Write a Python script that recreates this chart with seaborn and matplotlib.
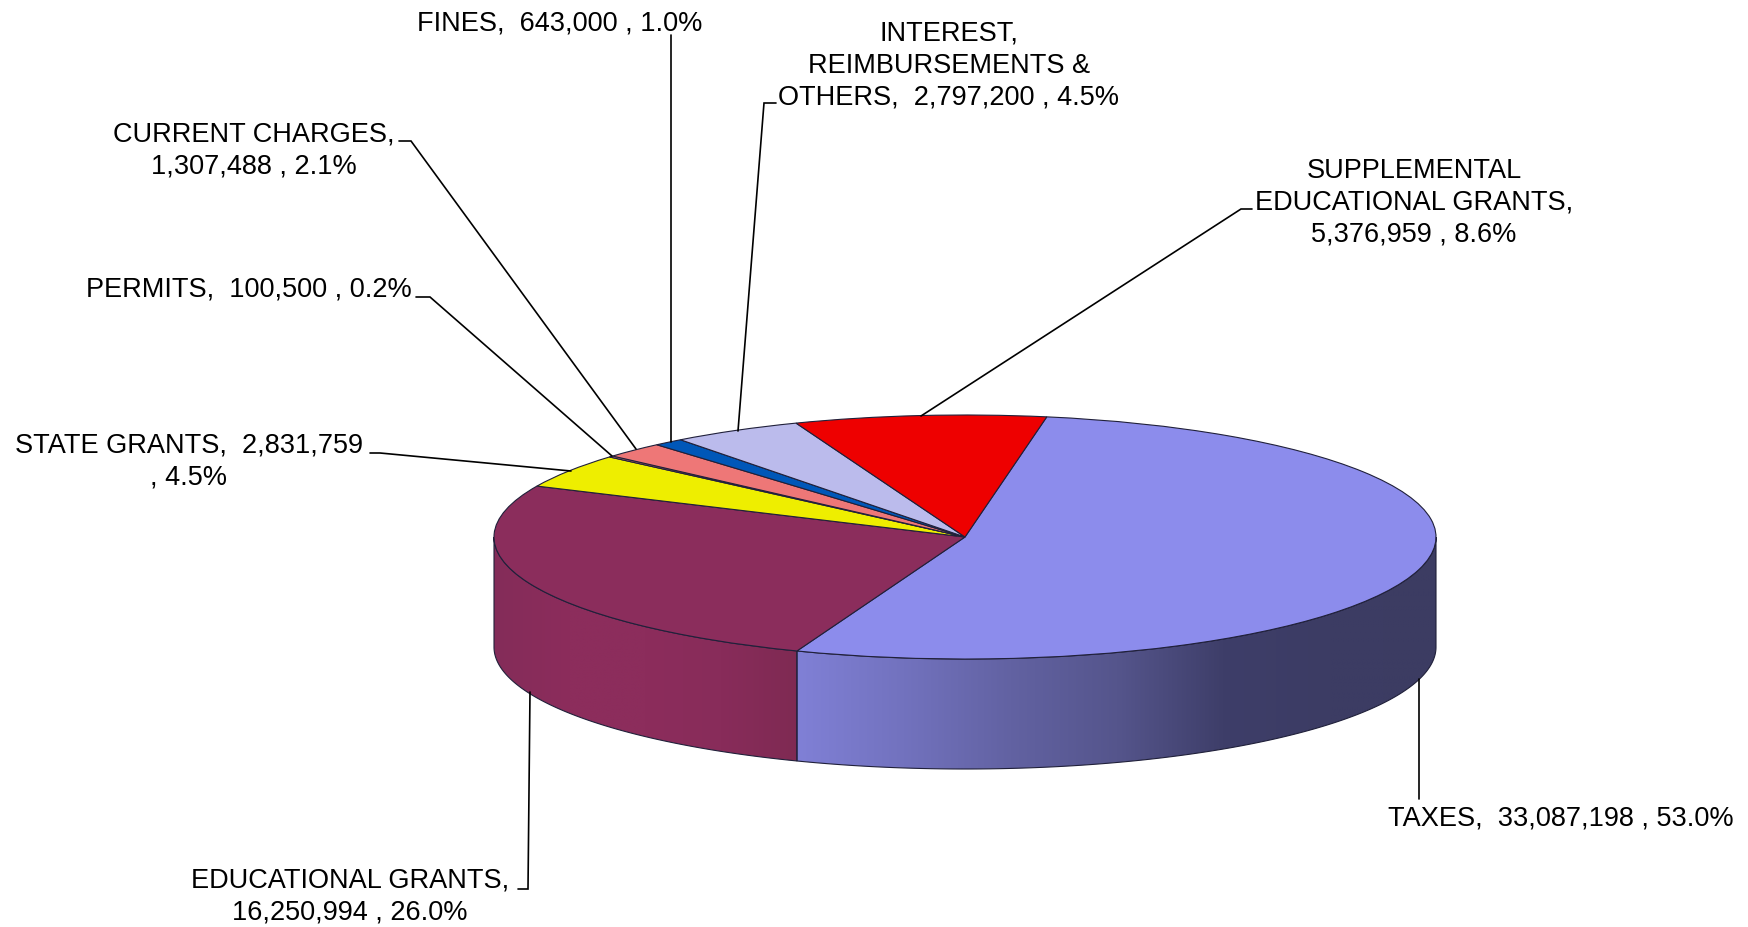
import numpy as np
import matplotlib
matplotlib.use("Agg")
import matplotlib.pyplot as plt
from matplotlib.patches import Polygon
import seaborn as sns

# data
categories = ["TAXES", "EDUCATIONAL GRANTS", "STATE GRANTS", "PERMITS", "CURRENT CHARGES",
              "FINES", "INTEREST, REIMBURSEMENTS & OTHERS", "SUPPLEMENTAL EDUCATIONAL GRANTS"]
values = [33087198, 16250994, 2831759, 100500, 1307488, 643000, 2797200, 5376959]
labels = ["TAXES,  33,087,198 , 53.0%",
          "EDUCATIONAL GRANTS,\n16,250,994 , 26.0%",
          "STATE GRANTS,  2,831,759\n, 4.5%",
          "PERMITS,  100,500 , 0.2%",
          "CURRENT CHARGES,\n1,307,488 , 2.1%",
          "FINES,  643,000 , 1.0%",
          "INTEREST,\nREIMBURSEMENTS &\nOTHERS,  2,797,200 , 4.5%",
          "SUPPLEMENTAL\nEDUCATIONAL GRANTS,\n5,376,959 , 8.6%"]
top_colors = ["#8c8cec", "#8b2d5c", "#eeee00", "#ee7777", "#ee7777", "#0057b8", "#bbbbec", "#ee0000"]
side_colors = {0: ["#8080d6", "#7272be", "#6262a2", "#55558c", "#3e3e69", "#3c3c64", "#3c3c62"],
               1: ["#842c59", "#8c2d5c", "#8c2d5c", "#882c5a", "#7f2a53"]}

# label centres and leader lines, in figure pixels
label_pos = [(1561, 819), (350, 897), (189, 462), (249, 290), (254, 151), (560, 23), (949, 66), (1414, 203)]
leaders = [[(1419, 680), (1419, 800)],
           [(530, 693), (528, 890), (518, 890)],
           [(571, 472), (380, 454), (370, 454)],
           [(612, 457), (430, 298), (416, 298)],
           [(636, 450), (411, 142), (399, 142)],
           [(671, 443), (671, 36)],
           [(738, 432), (764, 104), (776, 104)],
           [(921, 417), (1241, 210), (1252, 210)]]

W, H = 1749, 928
CX, CY, RX, RY = 965, 538, 471, 122
DEPTH = 110 / RY


def to_data(p):
    return (p[0] - CX) / RX, (CY - p[1]) / RY


sns.set_theme(style="white")
plt.rcParams["font.family"] = ["Liberation Sans", "DejaVu Sans"]

fig = plt.figure(figsize=(W / 100, H / 100), dpi=100)
ax = fig.add_axes([0, 0, 1, 1])

wedges, _ = ax.pie(values, colors=top_colors, startangle=80, counterclock=False,
                   wedgeprops={"edgecolor": "#20203a", "linewidth": 0.8, "zorder": 5})
ax.set_aspect("auto")

# front wall of the disc, one gradient per wedge that reaches the front
for i, w in enumerate(wedges):
    lo, hi = max(w.theta1, -180), min(w.theta2, 0)
    if lo >= hi:
        continue
    t = np.radians(np.linspace(lo, hi, 200))
    xs, ys = np.cos(t), np.sin(t)
    outline = np.vstack([np.column_stack([xs, ys]), np.column_stack([xs, ys - DEPTH])[::-1]])
    wall = Polygon(outline, closed=True, facecolor="none", edgecolor="#20203a", linewidth=0.8, zorder=3)
    ax.add_patch(wall)
    cmap = sns.blend_palette(side_colors[i], n_colors=256, as_cmap=True)
    img = ax.imshow(np.linspace(0, 1, 256).reshape(1, -1), cmap=cmap, aspect="auto", zorder=2,
                    interpolation="bilinear",
                    extent=(xs.min(), xs.max(), (ys - DEPTH).min(), ys.max()))
    img.set_clip_path(wall)

ax.set_xlim(-CX / RX, (W - CX) / RX)
ax.set_ylim((CY - H) / RY, CY / RY)
ax.set_aspect("auto")
ax.axis("off")

for line in leaders:
    pts = np.array([to_data(p) for p in line])
    ax.plot(pts[:, 0], pts[:, 1], color="black", lw=1.2, zorder=6, solid_joinstyle="miter")

for text, pos in zip(labels, label_pos):
    x, y = to_data(pos)
    ax.text(x, y, text, ha="center", va="center", multialignment="center",
            fontsize=19.55, color="black", linespacing=1.3, zorder=7)

fig.savefig("out.png", dpi=100, facecolor="white")
